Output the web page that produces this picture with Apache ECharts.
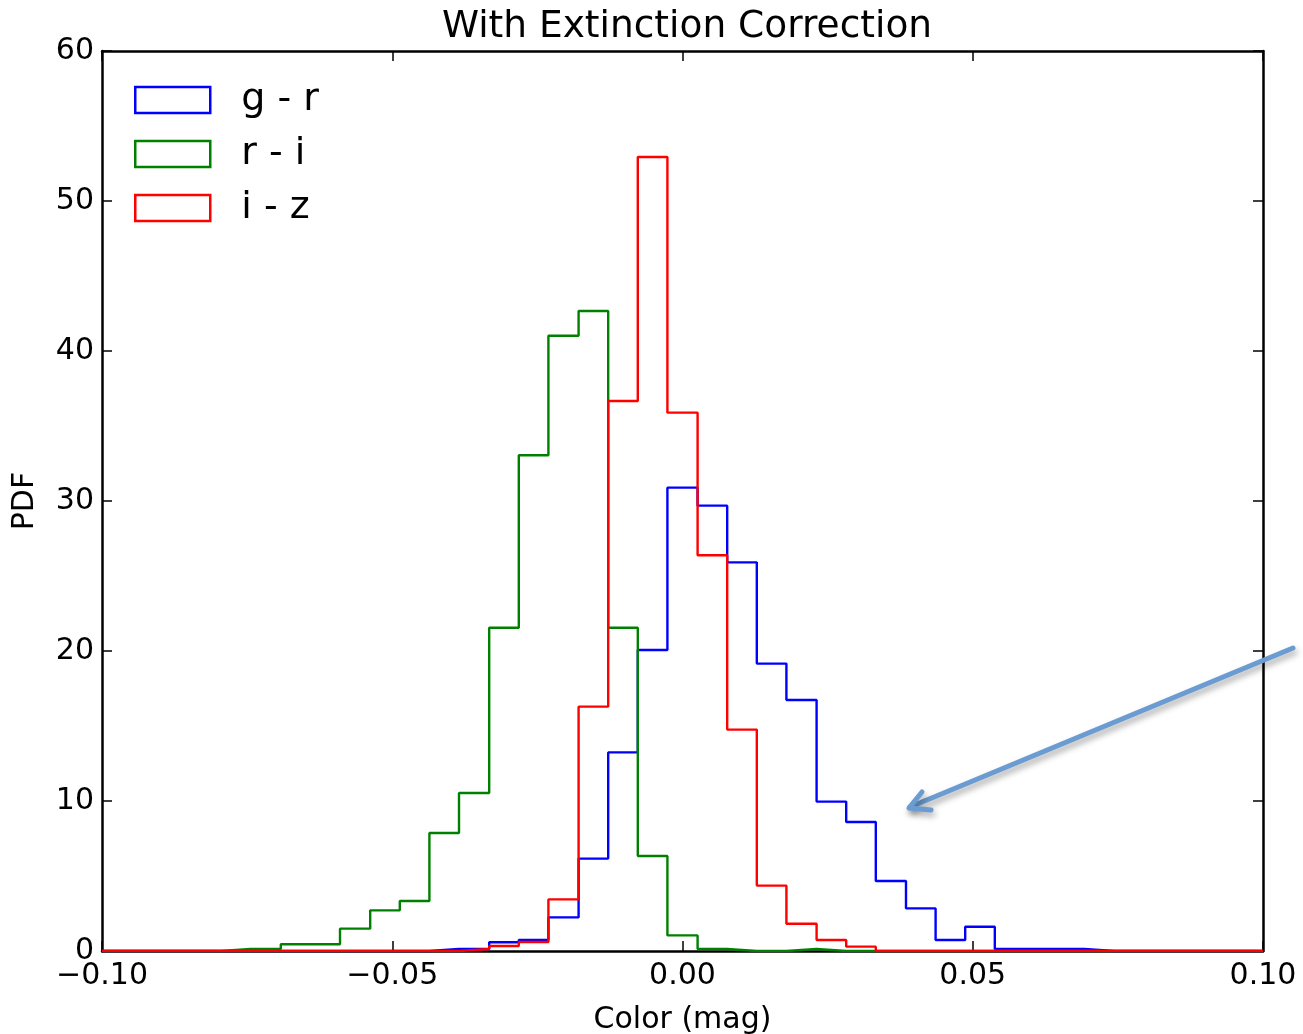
<!DOCTYPE html>
<html>
<head>
<meta charset="utf-8">
<script src="https://cdn.jsdelivr.net/npm/echarts@6/dist/echarts.min.js"></script>
<style>
html,body{margin:0;padding:0;background:#fff;}
#chart{width:1303px;height:1034px;}
</style>
</head>
<body>
<div id="chart"></div>
<script>
// Histogram bin edges (39 bins from -0.10 to 0.10)
const binEdges = [-0.1000,-0.0949,-0.0897,-0.0846,-0.0795,-0.0744,-0.0692,-0.0641,-0.0590,-0.0538,
  -0.0487,-0.0436,-0.0385,-0.0333,-0.0282,-0.0231,-0.0179,-0.0128,-0.0077,-0.0026,
  0.0026,0.0077,0.0128,0.0179,0.0231,0.0282,0.0333,0.0385,0.0436,0.0487,
  0.0538,0.0590,0.0641,0.0692,0.0744,0.0795,0.0846,0.0897,0.0949,0.1000];

const seriesNames = ['g - r', 'r - i', 'i - z'];

// PDF per bin (39 values each)
const gMinusR = [0,0,0,0,0,0,0,0,0,0,
  0,0.13,0.13,0.58,0.73,2.24,6.16,13.24,20.07,30.89,
  29.69,25.91,19.16,16.73,9.96,8.6,4.67,2.84,0.73,1.62,
  0.13,0.13,0.13,0,0,0,0,0,0];
const rMinusI = [0,0,0,0,0.13,0.13,0.45,0.45,1.49,2.71,
  3.33,7.87,10.53,21.55,33.05,41.02,42.67,21.55,6.33,1.04,
  0.13,0,0,0.13,0,0,0,0,0,0,
  0,0,0,0,0,0,0,0,0];
const iMinusZ = [0,0,0,0,0,0,0,0,0,0,
  0,0,0.13,0.33,0.6,3.44,16.29,36.67,52.93,35.89,
  26.38,14.76,4.36,1.82,0.73,0.29,0,0,0,0,
  0,0,0,0,0,0,0,0,0];

const xTicks = {min: -0.1, max: 0.1, interval: 0.05};
const yTicks = {min: 0, max: 60, interval: 10};

const colors = ['#0000ff', '#008000', '#ff0000'];
const FONT = 'DejaVu Sans';

function stepData(vals) {
  const d = vals.map((v, i) => [binEdges[i], v]);
  d.push([binEdges[binEdges.length - 1], 0]);
  return d;
}

const chart = echarts.init(document.getElementById('chart'), null, {renderer: 'canvas'});

function axisCommon() {
  return {
    axisLine: {show: true, onZero: false, lineStyle: {color: '#000', width: 2.5}},
    axisTick: {show: true, inside: true, length: 10, lineStyle: {color: '#000', width: 1.5}},
    splitLine: {show: false}
  };
}

const fmtX = v => {
  const s = (Math.round(v * 100) / 100).toFixed(2);
  return s.replace('-', '\u2212');
};

const option = {
  animation: false,
  backgroundColor: '#ffffff',
  title: {
    text: 'With Extinction Correction',
    left: 682,
    textAlign: 'center',
    top: 3,
    textStyle: {fontFamily: FONT, fontSize: 37.5, fontWeight: 'normal', color: '#000'}
  },
  grid: {left: 102, right: 40, top: 51, bottom: 83, containLabel: false, outerBoundsMode: 'none'},
  legend: {
    orient: 'vertical',
    left: 134,
    top: 81,
    padding: 0,
    itemWidth: 75,
    itemHeight: 26,
    itemGap: 16,
    textStyle: {fontFamily: FONT, fontSize: 38, color: '#000', padding: [0, 0, 0, 26]},
    data: seriesNames.map((n, i) => ({
      name: n,
      icon: 'rect',
      itemStyle: {color: '#ffffff', borderColor: colors[i], borderWidth: 2.5}
    }))
  },
  xAxis: [
    Object.assign({
      type: 'value', position: 'bottom',
      min: xTicks.min, max: xTicks.max, interval: xTicks.interval,
      name: 'Color (mag)', nameLocation: 'middle', nameGap: 54,
      nameTextStyle: {fontFamily: FONT, fontSize: 30, color: '#000'},
      axisLabel: {fontFamily: FONT, fontSize: 30, color: '#000', margin: 10, formatter: fmtX}
    }, axisCommon()),
    Object.assign({
      type: 'value', position: 'top',
      min: xTicks.min, max: xTicks.max, interval: xTicks.interval,
      axisLabel: {show: false}
    }, axisCommon())
  ],
  yAxis: [
    Object.assign({
      type: 'value', position: 'left',
      min: yTicks.min, max: yTicks.max, interval: yTicks.interval,
      name: 'PDF', nameLocation: 'middle', nameGap: 62,
      nameTextStyle: {fontFamily: FONT, fontSize: 30, color: '#000'},
      axisLabel: {fontFamily: FONT, fontSize: 30, color: '#000', margin: 8}
    }, axisCommon()),
    Object.assign({
      type: 'value', position: 'right',
      min: yTicks.min, max: yTicks.max, interval: yTicks.interval,
      axisLabel: {show: false}
    }, axisCommon())
  ],
  series: [gMinusR, rMinusI, iMinusZ].map((vals, i) => ({
    name: seriesNames[i],
    type: 'line',
    step: 'end',
    xAxisIndex: 0,
    yAxisIndex: 0,
    data: stepData(vals),
    showSymbol: false,
    symbol: 'none',
    lineStyle: {color: colors[i], width: 2.4},
    itemStyle: {color: colors[i]},
    z: 2 + i
  })),
  graphic: [
    {
      type: 'polyline',
      z: 100,
      shape: {points: [[1293, 648], [910, 807]]},
      style: {stroke: '#6a9bd1', lineWidth: 5, lineCap: 'round', fill: null,
        shadowBlur: 6, shadowColor: 'rgba(0,0,0,0.35)', shadowOffsetX: 2, shadowOffsetY: 4}
    },
    {
      type: 'polyline',
      z: 100,
      shape: {points: [[922, 792], [909, 808], [931, 810]]},
      style: {stroke: '#6a9bd1', lineWidth: 5, lineCap: 'round', lineJoin: 'round', fill: null,
        shadowBlur: 6, shadowColor: 'rgba(0,0,0,0.35)', shadowOffsetX: 2, shadowOffsetY: 4}
    }
  ]
};

chart.setOption(option);
</script>
</body>
</html>
